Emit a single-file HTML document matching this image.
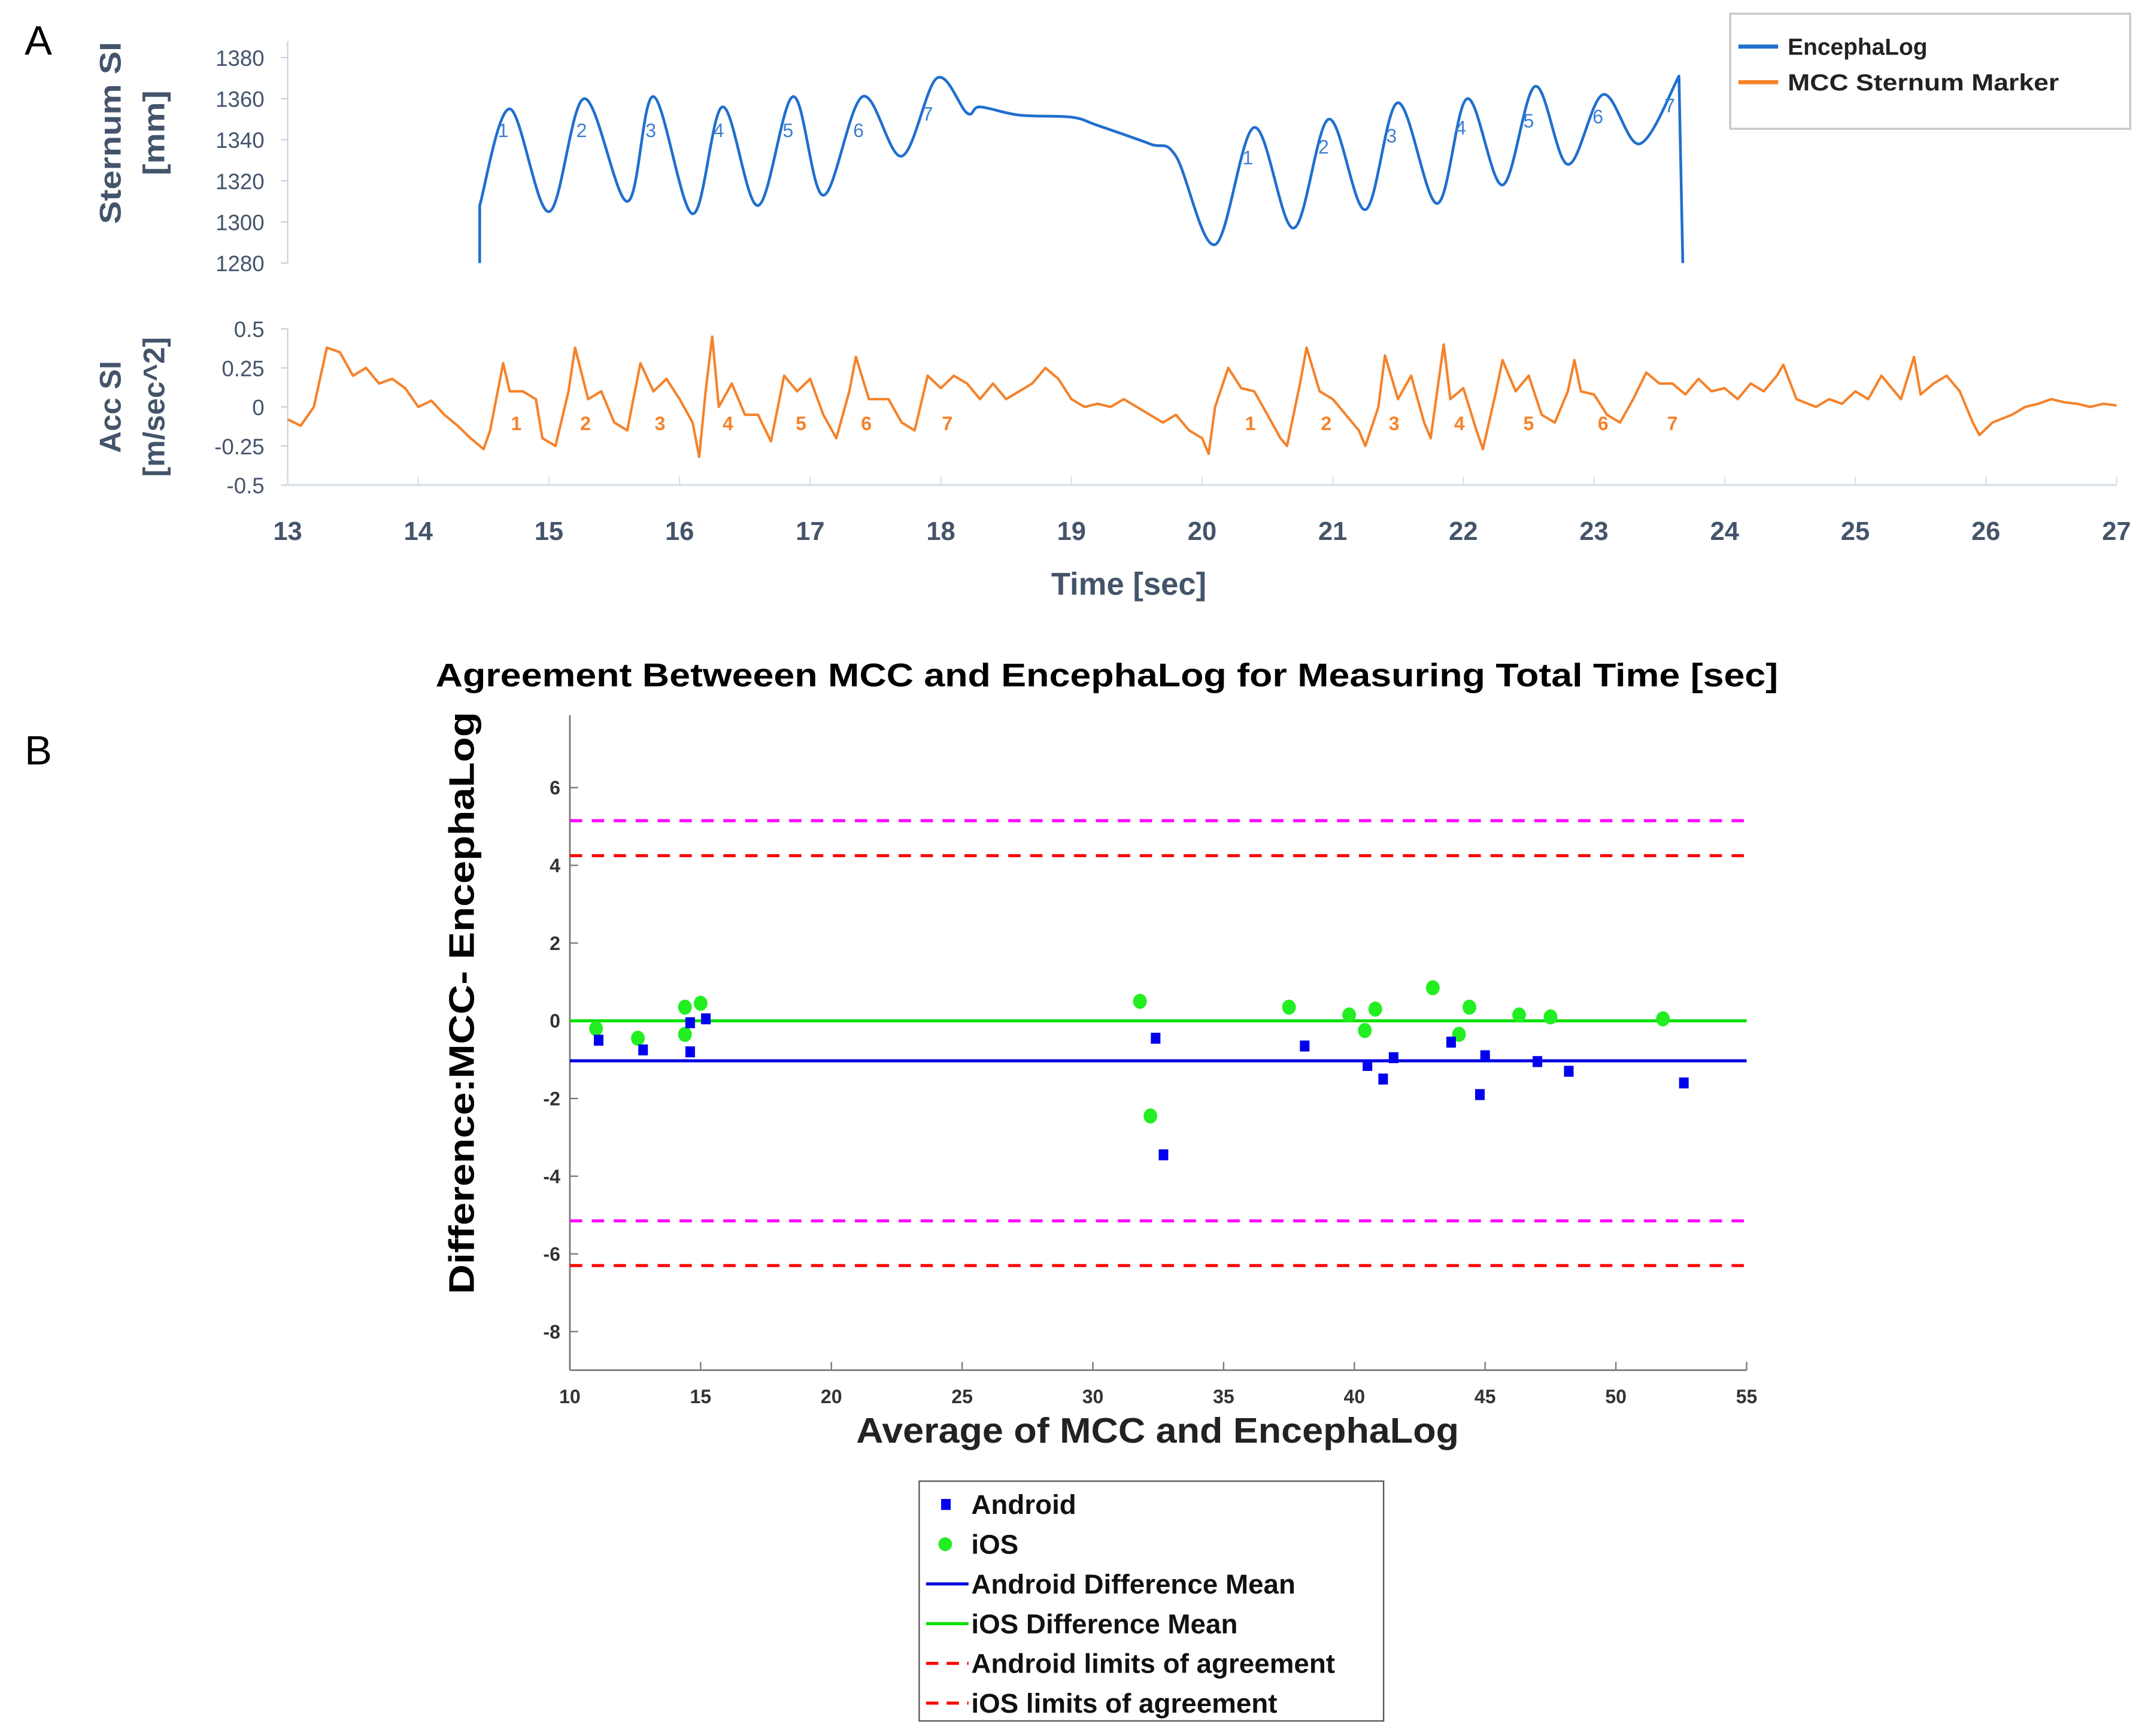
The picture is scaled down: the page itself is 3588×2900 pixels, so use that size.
<!DOCTYPE html>
<html><head><meta charset="utf-8"><style>
html,body{margin:0;padding:0;background:#fff}
svg{display:block}
text{font-family:"Liberation Sans",Arial,sans-serif}
</style></head><body>
<svg id="fig" width="3588" height="2900" viewBox="0 0 1568 1267" preserveAspectRatio="none" xmlns="http://www.w3.org/2000/svg">
<rect width="1568" height="1267" fill="#fff"/>
<text x="18" y="40" font-size="30" fill="#000">A</text>
<text x="18" y="558" font-size="30" fill="#000">B</text>
<g id="pa"></g>
<g id="pb"></g>
</svg>
<script>
// ---- Panel A data ----
const sternumT=[14.47,14.47,14.7,15.0,15.27,15.6,15.8,16.1,16.33,16.6,16.87,17.1,17.4,17.7,17.97,18.2,18.3,18.6,19.0,19.2,19.6,19.8,20.1,20.4,20.7,20.97,21.25,21.5,21.8,22.03,22.3,22.55,22.8,23.07,23.35,23.65,23.68];
const sternumV=[1280,1308,1355,1305,1360,1310,1361,1304,1356,1308,1361,1313,1361,1332,1370,1353,1356,1352,1351,1347,1338,1332,1289,1346,1297,1350,1306,1358,1309,1360,1318,1366,1328,1362,1338,1371,1280];
const accT=[13.0,13.1,13.2,13.3,13.4,13.5,13.6,13.7,13.8,13.9,14.0,14.1,14.2,14.3,14.4,14.5,14.55,14.65,14.7,14.8,14.9,14.95,15.05,15.15,15.2,15.3,15.4,15.5,15.6,15.7,15.8,15.9,16.0,16.1,16.15,16.2,16.25,16.3,16.4,16.5,16.6,16.7,16.8,16.9,17.0,17.1,17.2,17.3,17.35,17.45,17.6,17.7,17.8,17.9,18.0,18.1,18.2,18.3,18.4,18.5,18.6,18.7,18.8,18.9,19.0,19.1,19.2,19.3,19.4,19.5,19.6,19.7,19.8,19.9,20.0,20.05,20.1,20.2,20.3,20.4,20.5,20.6,20.65,20.75,20.8,20.9,21.0,21.1,21.2,21.25,21.35,21.4,21.5,21.6,21.7,21.75,21.8,21.85,21.9,22.0,22.1,22.15,22.25,22.3,22.4,22.5,22.6,22.7,22.8,22.85,22.9,23.0,23.1,23.2,23.3,23.4,23.5,23.6,23.7,23.8,23.9,24.0,24.1,24.2,24.3,24.4,24.45,24.55,24.7,24.8,24.9,25.0,25.1,25.2,25.3,25.35,25.45,25.5,25.6,25.7,25.8,25.9,25.95,26.05,26.2,26.3,26.4,26.5,26.6,26.7,26.8,26.9,27.0];
const accV=[-0.08,-0.12,0.0,0.38,0.35,0.2,0.25,0.15,0.18,0.12,0.0,0.04,-0.05,-0.12,-0.2,-0.27,-0.15,0.28,0.1,0.1,0.05,-0.2,-0.25,0.1,0.38,0.05,0.1,-0.1,-0.15,0.28,0.1,0.18,0.05,-0.1,-0.32,0.1,0.45,0.0,0.15,-0.05,-0.05,-0.22,0.2,0.1,0.18,-0.05,-0.2,0.1,0.32,0.05,0.05,-0.1,-0.15,0.2,0.12,0.2,0.15,0.05,0.15,0.05,0.1,0.15,0.25,0.18,0.05,0.0,0.02,0.0,0.05,0.0,-0.05,-0.1,-0.05,-0.15,-0.2,-0.3,0.0,0.25,0.12,0.1,-0.05,-0.2,-0.25,0.15,0.38,0.1,0.05,-0.05,-0.15,-0.25,0.0,0.33,0.05,0.2,-0.1,-0.2,0.1,0.4,0.05,0.12,-0.15,-0.27,0.1,0.3,0.1,0.2,-0.05,-0.1,0.1,0.3,0.1,0.08,-0.05,-0.1,0.05,0.22,0.15,0.15,0.08,0.18,0.1,0.12,0.05,0.15,0.1,0.2,0.27,0.05,0.0,0.05,0.02,0.1,0.05,0.2,0.1,0.05,0.32,0.08,0.15,0.2,0.1,-0.1,-0.18,-0.1,-0.05,0.0,0.02,0.05,0.03,0.02,0.0,0.02,0.01];
const cycleLabelT=[14.65,15.25,15.78,16.3,16.83,17.37,17.9,20.35,20.93,21.45,21.98,22.5,23.03,23.58];
const cycleLabelN=["1","2","3","4","5","6","7","1","2","3","4","5","6","7"];
const accLabelT=[14.75,15.28,15.85,16.37,16.93,17.43,18.05,20.37,20.95,21.47,21.97,22.5,23.07,23.6];
const xTicksA=[13,14,15,16,17,18,19,20,21,22,23,24,25,26,27];
const sternTicks=[1280,1300,1320,1340,1360,1380];
const accTicks=[-0.5,-0.25,0,0.25,0.5];
const accTickLabels=["-0.5","-0.25","0","0.25","0.5"];
// ---- Panel B data ----
const androidX=[11.1,12.8,14.6,14.6,15.2,32.4,32.7,38.1,40.5,41.1,41.5,43.7,44.8,45.0,47.0,48.2,52.6];
const androidY=[-0.5,-0.75,-0.05,-0.8,0.05,-0.45,-3.45,-0.65,-1.15,-1.5,-0.95,-0.55,-1.9,-0.9,-1.05,-1.3,-1.6];
const iosX=[11.0,12.6,14.4,14.4,15.0,31.8,32.2,37.5,39.8,40.4,40.8,43.0,44.0,44.4,46.3,47.5,51.8];
const iosY=[-0.2,-0.45,0.35,-0.35,0.45,0.5,-2.45,0.35,0.15,-0.25,0.3,0.85,-0.35,0.35,0.15,0.1,0.05];
const androidMean=-1.03, iosMean=0.0;
const androidLoA=[4.25,-6.3];
const iosLoA=[5.15,-5.15];
const xTicksB=[10,15,20,25,30,35,40,45,50,55];
const yTicksB=[-8,-6,-4,-2,0,2,4,6];

const NS="http://www.w3.org/2000/svg";
function mk(parent,tag,attrs,txt){const e=document.createElementNS(NS,tag);for(const k in attrs)e.setAttribute(k,attrs[k]);if(txt!==undefined)e.textContent=txt;parent.appendChild(e);return e;}
function smooth(pts){
  let d='M'+pts[0][0].toFixed(1)+','+pts[0][1].toFixed(1);
  for(let i=0;i<pts.length-1;i++){
    const p0=pts[Math.max(0,i-1)],p1=pts[i],p2=pts[i+1],p3=pts[Math.min(pts.length-1,i+2)];
    const c1=[p1[0]+(p2[0]-p0[0])/6,p1[1]+(p2[1]-p0[1])/6];
    const c2=[p2[0]-(p3[0]-p1[0])/6,p2[1]-(p3[1]-p1[1])/6];
    d+='C'+c1.map(v=>v.toFixed(1)).join(',')+' '+c2.map(v=>v.toFixed(1)).join(',')+' '+p2[0].toFixed(1)+','+p2[1].toFixed(1);
  }
  return d;
}
const SG='spacingAndGlyphs';
const pa=document.getElementById('pa'), pb=document.getElementById('pb');
const axc="#44546a";
const xA=t=>210+(t-13)*(1545-210)/14;
const yS=v=>192-(v-1280)*(150/100);
const yAcc=v=>297-v*114;
let ax=mk(pa,'line',{x1:210,y1:30,x2:210,y2:192,stroke:'#c9d3df','stroke-width':1});

sternTicks.forEach(v=>{const t=mk(pa,'text',{x:193,y:yS(v)+6,'font-size':16,fill:axc,'text-anchor':'end'},String(v));

mk(pa,'line',{x1:205,y1:yS(v),x2:210,y2:yS(v),stroke:'#c9d3df'});});
let yl=mk(pa,'text',{transform:'translate(88,97) rotate(-90)','font-size':22,'font-weight':'bold',fill:axc,'text-anchor':'middle',textLength:133,lengthAdjust:SG},'Sternum SI');

yl=mk(pa,'text',{transform:'translate(120,97) rotate(-90)','font-size':22,'font-weight':'bold',fill:axc,'text-anchor':'middle',textLength:62,lengthAdjust:SG},'[mm]');

const sp=sternumT.map((t,i)=>[xA(t),yS(sternumV[i])]);
let d='M'+sp[0][0]+','+sp[0][1]+smooth(sp.slice(1,-1)).replace(/^M/,'L')+'L'+sp[sp.length-1][0]+','+sp[sp.length-1][1];
let p=mk(pa,'path',{d:d,fill:'none',stroke:'#1f6fce','stroke-width':2,'stroke-linejoin':'round'});

cycleLabelT.forEach((t,i)=>{const y=i<7?(i==6?88:100):(i<9?(i==7?120:112):(i<11?(i==9?104:98):(i==11?93:(i==12?90:82))));
const e=mk(pa,'text',{x:xA(t),y:y,'font-size':14,fill:'#3f7fcf','text-anchor':'middle'},cycleLabelN[i]);
});
ax=mk(pa,'line',{x1:210,y1:240,x2:210,y2:354,stroke:'#c9d3df'});

ax=mk(pa,'line',{x1:210,y1:354,x2:1545,y2:354,stroke:'#d9e0e8','stroke-width':1.5});

accTicks.forEach((v,i)=>{const t=mk(pa,'text',{x:193,y:yAcc(v)+6,'font-size':16,fill:axc,'text-anchor':'end'},accTickLabels[i]);

mk(pa,'line',{x1:205,y1:yAcc(v),x2:210,y2:yAcc(v),stroke:'#c9d3df'});});
xTicksA.forEach(v=>{mk(pa,'line',{x1:xA(v),y1:348,x2:xA(v),y2:354,stroke:'#d9e0e8'});
const t=mk(pa,'text',{x:xA(v),y:394,'font-size':19,'font-weight':'bold',fill:axc,'text-anchor':'middle'},String(v));
});
yl=mk(pa,'text',{transform:'translate(88,297) rotate(-90)','font-size':22,'font-weight':'bold',fill:axc,'text-anchor':'middle'},'Acc SI');

yl=mk(pa,'text',{transform:'translate(120,297) rotate(-90)','font-size':22,'font-weight':'bold',fill:axc,'text-anchor':'middle'},'[m/sec^2]');

yl=mk(pa,'text',{x:824,y:434,'font-size':23,'font-weight':'bold',fill:axc,'text-anchor':'middle'},'Time [sec]');

d=accT.map((t,i)=>(i?'L':'M')+xA(t).toFixed(1)+','+yAcc(accV[i]).toFixed(1)).join('');
p=mk(pa,'path',{d:d,fill:'none',stroke:'#f5822a','stroke-width':1.8,'stroke-linejoin':'round'});

accLabelT.forEach((t,i)=>{const e=mk(pa,'text',{x:xA(t),y:314,'font-size':14,'font-weight':'bold',fill:'#f5822a','text-anchor':'middle'},cycleLabelN[i]);
});
let lg=mk(pa,'g',{});

mk(lg,'rect',{x:1263,y:10,width:292,height:84,fill:'#fff',stroke:'#c8c8c8','stroke-width':1.5});
mk(lg,'line',{x1:1269,y1:34,x2:1298,y2:34,stroke:'#1f6fce','stroke-width':3});
let le=mk(lg,'text',{x:1305,y:40,'font-size':17,'font-weight':'bold',fill:'#222'},'EncephaLog');

mk(lg,'line',{x1:1269,y1:60,x2:1298,y2:60,stroke:'#f5822a','stroke-width':3});
le=mk(lg,'text',{x:1305,y:66,'font-size':17,'font-weight':'bold',fill:'#222',textLength:198,lengthAdjust:SG},'MCC Sternum Marker');


// ---- Panel B ----
const xB=v=>416+(v-10)*(1275-416)/45;
const yB=v=>745-v*(972-575)/14;
let tt=mk(pb,'text',{x:808,y:501,'font-size':24,'font-weight':'bold',fill:'#000','text-anchor':'middle',textLength:980,lengthAdjust:SG},'Agreement Betweeen MCC and EncephaLog for Measuring Total Time [sec]');

ax=mk(pb,'line',{x1:416,y1:522,x2:416,y2:1000,stroke:'#777',"stroke-width":1.2});

ax=mk(pb,'line',{x1:416,y1:1000,x2:1275,y2:1000,stroke:'#777',"stroke-width":1.2});

yTicksB.forEach(v=>{mk(pb,'line',{x1:416,y1:yB(v),x2:422,y2:yB(v),stroke:'#777'});
const t=mk(pb,'text',{x:409,y:yB(v)+5,'font-size':14,'font-weight':'bold',fill:'#333','text-anchor':'end'},String(v));
});
xTicksB.forEach(v=>{mk(pb,'line',{x1:xB(v),y1:994,x2:xB(v),y2:1000,stroke:'#777'});
const t=mk(pb,'text',{x:xB(v),y:1024,'font-size':14,'font-weight':'bold',fill:'#333','text-anchor':'middle'},String(v));
});
yl=mk(pb,'text',{transform:'translate(346,732) rotate(-90)','font-size':26,'font-weight':'bold',fill:'#000','text-anchor':'middle',textLength:425,lengthAdjust:SG},'Difference:MCC- EncephaLog');

yl=mk(pb,'text',{x:845,y:1053,'font-size':26,'font-weight':'bold',fill:'#222','text-anchor':'middle',textLength:440,lengthAdjust:SG},'Average of MCC and EncephaLog');

function hline(v,col,dash,name){const l=mk(pb,'line',{x1:416,y1:yB(v),x2:1275,y2:yB(v),stroke:col,'stroke-width':2.2,'stroke-dasharray':dash});
}
iosLoA.forEach(v=>hline(v,'#ff00ff','9,7','ios-limit-of-agreement'));
androidLoA.forEach(v=>hline(v,'#ff0000','9,7','android-limit-of-agreement'));
hline(iosMean,'#00e000','','ios-difference-mean');
hline(androidMean,'#0000e0','','android-difference-mean');
iosX.forEach((x,i)=>{const c=mk(pb,'ellipse',{cx:xB(x),cy:yB(iosY[i]),rx:5,ry:5.5,fill:'#22ee22'});
});
androidX.forEach((x,i)=>{const r=mk(pb,'rect',{x:xB(x)-3.5,y:yB(androidY[i])-4,width:7,height:8,fill:'#0000ee'});
});
lg=mk(pb,'g',{});

mk(lg,'rect',{x:671,y:1081,width:339,height:175,fill:'#fff',stroke:'#555','stroke-width':1});
const items=[['Android','sq'],['iOS','ci'],['Android Difference Mean','#0000e0'],['iOS Difference Mean','#00e000'],['Android limits of agreement','d'],['iOS limits of agreement','d']];
items.forEach((it,i)=>{const y=1098+i*29;
if(it[1]=='sq')mk(lg,'rect',{x:687,y:y-4,width:7,height:8,fill:'#0000ee'});
else if(it[1]=='ci')mk(lg,'circle',{cx:690,cy:y,r:5,fill:'#22ee22'});
else if(it[1]=='d')mk(lg,'line',{x1:676,y1:y,x2:707,y2:y,stroke:'#ff0000','stroke-width':2.2,'stroke-dasharray':'9,6'});
else mk(lg,'line',{x1:676,y1:y,x2:707,y2:y,stroke:it[1],'stroke-width':2.2});
const t=mk(lg,'text',{x:709,y:y+7,'font-size':20,'font-weight':'bold',fill:'#111'},it[0]);
});
</script>
</body></html>
